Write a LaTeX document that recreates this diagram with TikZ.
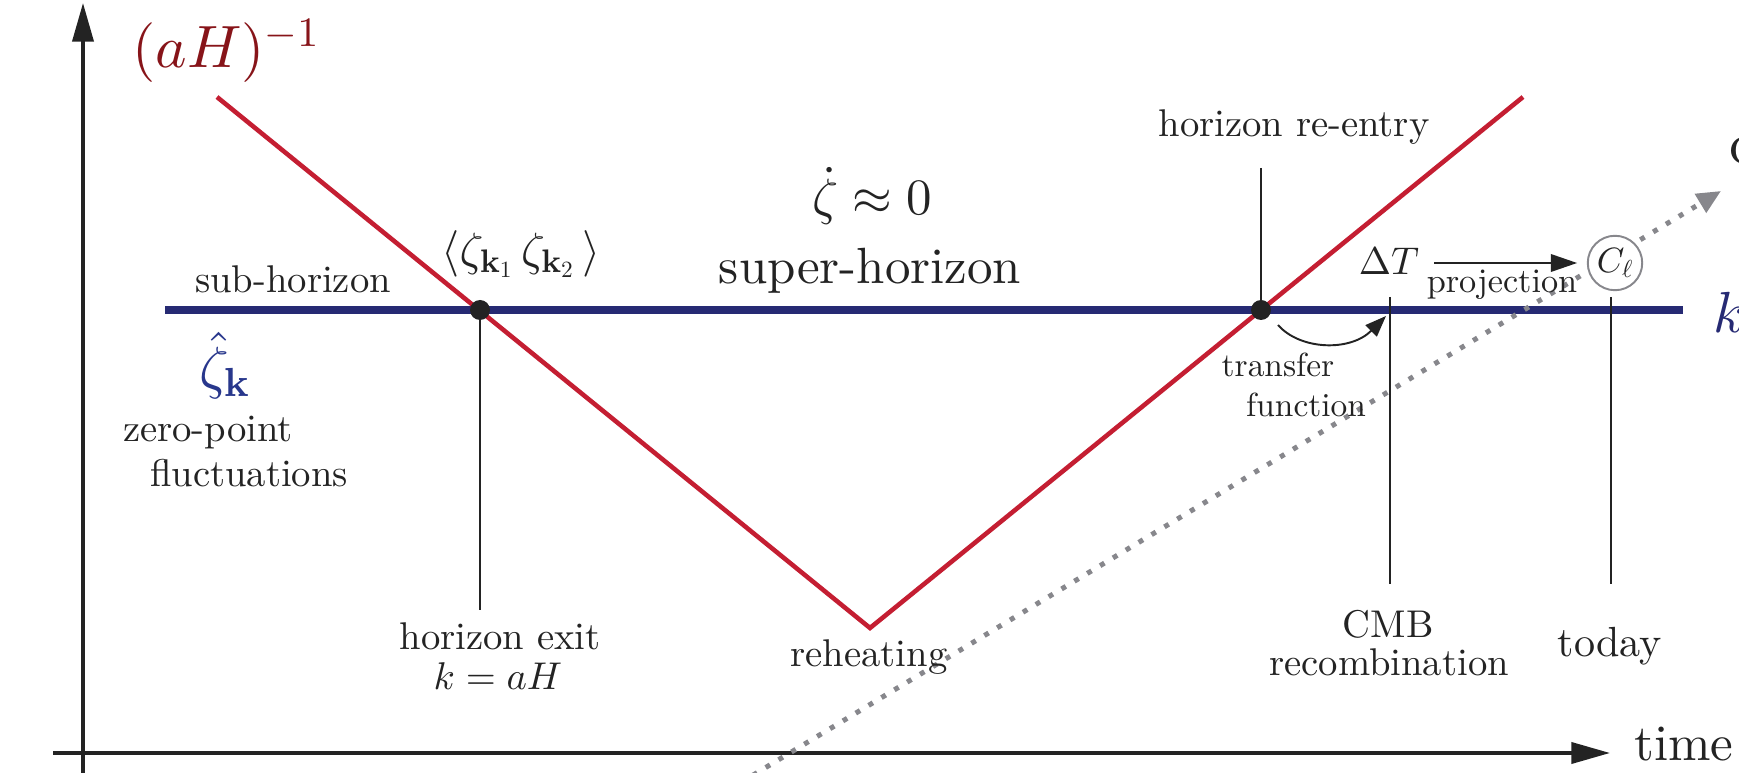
\RequirePackage{fix-cm}
\documentclass[tikz,border=0pt]{standalone}
\usepackage{amsmath}
\usepackage{fontspec}
\setmainfont{lmroman10-regular.otf}[BoldFont=lmroman10-bold.otf, ItalicFont=lmroman10-italic.otf, BoldItalicFont=lmroman10-bolditalic.otf]
\usetikzlibrary{arrows.meta}
\DeclareFontShape{OT1}{cmr}{m}{n}{<->cmr10}{}
\DeclareFontShape{OT1}{cmr}{bx}{n}{<->cmbx10}{}
\DeclareFontShape{OML}{cmm}{m}{it}{<->cmmi10}{}
\DeclareFontShape{OMS}{cmsy}{m}{n}{<->cmsy10}{}
\DeclareFontShape{OMX}{cmex}{m}{n}{<->cmex10}{}
\definecolor{redl}{RGB}{196,30,50}
\definecolor{redt}{RGB}{135,20,25}
\definecolor{bluel}{RGB}{38,42,115}
\definecolor{bluet}{RGB}{40,55,140}
\definecolor{txtc}{RGB}{35,35,35}
\definecolor{grayd}{RGB}{135,135,140}
\newcommand{\fs}[1]{\fontsize{#1}{#1}\selectfont}
\tikzset{
  txt/.style={inner sep=0pt, anchor=base, text=txtc},
  axis/.style={line width=2pt, draw=txtc, -{Triangle[length=22pt,width=12pt]}},
  redline/.style={line width=2.6pt, draw=redl},
  blueline/.style={line width=4pt, draw=bluel},
  tick/.style={line width=1.1pt, draw=txtc},
  parrow/.style={line width=1.1pt, draw=txtc, -{Triangle[length=15pt,width=10pt]}},
  tarrow/.style={line width=1.1pt, draw=txtc, -{Triangle[length=12pt,width=9pt]}},
  dotline/.style={line width=2.85pt, draw=grayd, dash pattern=on 2.85pt off 5.7pt, -{Triangle[length=13.7pt,width=12pt,fill=grayd]}},
}
\begin{document}
\begin{tikzpicture}[x=0.02cm,y=-0.02cm]
\useasboundingbox (0,0) rectangle (1739,773);
\clip (0,0) rectangle (1739,773);

% axes
\coordinate (vb) at (83,780);
\coordinate (vt) at (83,3);
\coordinate (hl) at (53,753);
\coordinate (hr) at (1610,753);
\draw[axis] (vb) -- (vt);
\draw[axis] (hl) -- (hr);

% key coordinates
\coordinate (b1) at (165,310);
\coordinate (b2) at (1683,310);
\coordinate (r1) at (217,97);
\coordinate (rv) at (870,628);
\coordinate (r2) at (1523,97);
\coordinate (exitdot) at (480,310);
\coordinate (reentrydot) at (1261,310);
\coordinate (exitbot) at (480,610);
\coordinate (reentrytop) at (1261,168);
\coordinate (cmbtop) at (1390,297);
\coordinate (cmbbot) at (1390,584);
\coordinate (todaytop) at (1611,297);
\coordinate (todaybot) at (1611,584);

% blue horizontal line
\draw[blueline] (b1) -- (b2);

% vertical ticks
\draw[tick] (exitdot) -- (exitbot);
\draw[tick] (reentrytop) -- (reentrydot);
\draw[tick] (cmbtop) -- (cmbbot);
\draw[tick] (todaytop) -- (todaybot);

% red horizon line
\draw[redline] (r1) -- (rv) -- (r2);

% dots
\fill[txtc] (exitdot) circle (10);
\fill[txtc] (reentrydot) circle (10);

% dotted gray arrow
\coordinate (ds) at (740,783);
\coordinate (de) at (1721,191);
\draw[dotline] (ds) -- (de);

% labels
\node[txt, font=\fs{34}, text=redt, anchor=base west] (aH) at (132,68) {$(aH)^{-1}$};
\node[txt, font=\fs{33}, text=bluel, anchor=base west] (kinv) at (1713,333) {$k^{-1}$};
\node[txt, font=\fs{33}, anchor=base west] (cpart) at (1729,164) {c};
\node[txt, font=\fs{22}] (reentry) at (1294,137) {horizon re-entry};
\node[txt, font=\fs{29}] (zdot) at (872,215) {$\dot\zeta\approx 0$};
\node[txt, font=\fs{29}] (super) at (870,284) {super-horizon};
\node[txt, font=\fs{22}] (sub) at (293,293) {sub-horizon};
\node[txt, font=\fs{26.5}] (corr) at (521,266) {$\langle\zeta_{\mathbf{k}_1}\,\zeta_{\mathbf{k}_2}\,\rangle$};
\node[txt, font=\fs{33}, text=bluet] (zhat) at (225,388) {$\hat\zeta_{\mathbf{k}}$};
\node[txt, font=\fs{22}] (zp) at (208,442) {zero-point};
\node[txt, font=\fs{22}] (fl) at (249,487) {fluctuations};
\node[txt, font=\fs{22}] (hexit) at (500,649) {horizon exit};
\node[txt, font=\fs{22}] (kaH) at (498,689) {$k=aH$};
\node[txt, font=\fs{22}] (reh) at (869,666) {reheating};
\node[txt, font=\fs{22}] (cmb) at (1388,638) {CMB};
\node[txt, font=\fs{22}] (recomb) at (1389,675) {recombination};
\node[txt, font=\fs{24}] (today) at (1610,657) {today};
\node[txt, font=\fs{29}] (time) at (1684,760) {time};
\node[txt, font=\fs{22}] (dT) at (1389,275) {$\Delta T$};
\node[txt, font=\fs{19.5}] (proj) at (1502,293) {projection};
\node[txt, font=\fs{19}] (tr) at (1278,377) {transfer};
\node[txt, font=\fs{19}] (fn) at (1306,417) {function};
\node[circle, draw=grayd, fill=white, line width=1.1pt, minimum size=31pt, inner sep=0pt, font=\fs{20}, text=txtc] (Cl) at (1615,263) {$C_\ell$};

% projection arrow
\draw[parrow, shorten <=8.5pt, shorten >=5.5pt] (dT.east |- Cl.west) -- (Cl.west);

% transfer function arrow
\coordinate (ts) at (1278,325);
\coordinate (te) at (1386,316);
\draw[tarrow] (ts) .. controls (1300,350) and (1350,352) .. (te);
\end{tikzpicture}
\end{document}
